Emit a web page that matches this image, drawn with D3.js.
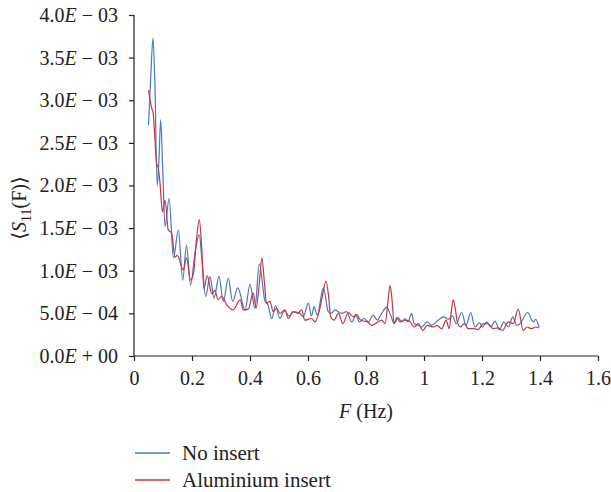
<!DOCTYPE html>
<html>
<head>
<meta charset="utf-8">
<script src="https://cdn.jsdelivr.net/npm/d3@7"></script>
<style>
  body { margin: 0; background: #fff; }
</style>
</head>
<body>
<div id="chart"></div>
<script>
// frequencies (Hz) and mean S11 values (x 1e-3)
const noInsertF = [0.050, 0.058, 0.0655, 0.072, 0.080, 0.086, 0.092, 0.099, 0.107, 0.121, 0.136, 0.153, 0.168, 0.181, 0.195, 0.210, 0.225, 0.235, 0.247, 0.262, 0.276, 0.293, 0.308, 0.325, 0.340, 0.358, 0.383, 0.400, 0.417, 0.432, 0.452, 0.462, 0.475, 0.488, 0.503, 0.518, 0.535, 0.549, 0.572, 0.584, 0.601, 0.612, 0.621, 0.632, 0.653, 0.670, 0.680, 0.693, 0.716, 0.733, 0.751, 0.766, 0.777, 0.793, 0.808, 0.825, 0.839, 0.854, 0.871, 0.885, 0.897, 0.911, 0.923, 0.935, 0.945, 0.957, 0.966, 0.980, 0.992, 1.011, 1.026, 1.049, 1.068, 1.084, 1.098, 1.111, 1.130, 1.145, 1.161, 1.176, 1.191, 1.202, 1.216, 1.230, 1.245, 1.260, 1.275, 1.291, 1.306, 1.320, 1.331, 1.357, 1.377, 1.385, 1.397];
const noInsertV = [2.71, 3.30, 3.73, 3.20, 2.00, 2.30, 2.77, 2.20, 1.52, 1.85, 1.15, 1.48, 0.89, 1.30, 0.83, 1.20, 1.42, 1.10, 0.70, 0.93, 0.68, 0.93, 0.64, 0.91, 0.64, 0.80, 0.54, 0.84, 0.56, 1.08, 0.64, 0.60, 0.44, 0.59, 0.44, 0.53, 0.47, 0.52, 0.50, 0.46, 0.62, 0.47, 0.58, 0.48, 0.80, 0.52, 0.50, 0.54, 0.50, 0.52, 0.40, 0.48, 0.40, 0.44, 0.40, 0.48, 0.42, 0.50, 0.57, 0.48, 0.38, 0.45, 0.40, 0.44, 0.40, 0.50, 0.38, 0.36, 0.34, 0.40, 0.36, 0.42, 0.46, 0.43, 0.47, 0.38, 0.51, 0.36, 0.51, 0.34, 0.39, 0.34, 0.40, 0.34, 0.41, 0.31, 0.40, 0.34, 0.46, 0.36, 0.38, 0.51, 0.40, 0.43, 0.34];

const aluF = [0.050, 0.0609, 0.066, 0.078, 0.084, 0.0897, 0.098, 0.107, 0.118, 0.130, 0.141, 0.149, 0.170, 0.181, 0.195, 0.205, 0.215, 0.225, 0.233, 0.241, 0.253, 0.268, 0.279, 0.290, 0.302, 0.320, 0.342, 0.366, 0.377, 0.394, 0.411, 0.421, 0.432, 0.441, 0.450, 0.457, 0.469, 0.480, 0.492, 0.503, 0.521, 0.532, 0.549, 0.566, 0.578, 0.589, 0.612, 0.624, 0.641, 0.652, 0.662, 0.671, 0.678, 0.690, 0.705, 0.720, 0.739, 0.756, 0.768, 0.779, 0.791, 0.805, 0.820, 0.837, 0.854, 0.866, 0.876, 0.883, 0.890, 0.897, 0.906, 0.917, 0.934, 0.950, 0.966, 0.980, 0.996, 1.011, 1.032, 1.045, 1.061, 1.076, 1.087, 1.095, 1.101, 1.108, 1.115, 1.126, 1.138, 1.153, 1.170, 1.187, 1.204, 1.220, 1.239, 1.255, 1.270, 1.291, 1.308, 1.325, 1.342, 1.356, 1.370, 1.385, 1.397];
const aluV = [3.12, 2.91, 2.85, 2.26, 2.20, 2.03, 1.69, 1.83, 1.48, 1.44, 1.16, 1.18, 1.01, 1.15, 0.89, 0.97, 1.35, 1.60, 1.30, 0.79, 0.94, 0.73, 0.77, 0.66, 0.70, 0.60, 0.54, 0.66, 0.54, 0.55, 0.74, 0.56, 0.85, 1.15, 0.85, 0.62, 0.64, 0.52, 0.56, 0.50, 0.54, 0.44, 0.52, 0.50, 0.54, 0.42, 0.44, 0.40, 0.56, 0.75, 0.88, 0.70, 0.46, 0.42, 0.50, 0.38, 0.51, 0.46, 0.49, 0.43, 0.41, 0.40, 0.36, 0.39, 0.42, 0.38, 0.65, 0.83, 0.65, 0.38, 0.45, 0.40, 0.42, 0.41, 0.34, 0.38, 0.30, 0.36, 0.34, 0.36, 0.32, 0.42, 0.32, 0.55, 0.66, 0.55, 0.40, 0.34, 0.38, 0.32, 0.32, 0.31, 0.38, 0.38, 0.32, 0.33, 0.30, 0.40, 0.38, 0.55, 0.30, 0.34, 0.32, 0.34, 0.33];

const xTicks = [0, 0.2, 0.4, 0.6, 0.8, 1, 1.2, 1.4, 1.6];
const yTicks = [0, 0.5, 1.0, 1.5, 2.0, 2.5, 3.0, 3.5, 4.0]; // x 1e-3
const seriesNames = ['No insert', 'Aluminium insert'];
const seriesColors = ['#4a78c0', '#c4393c'];

const FONT = "'Liberation Serif', 'Times New Roman', 'DejaVu Serif', serif";

const width = 611, height = 492;
const margin = {top: 15, right: 13, bottom: 136, left: 134};
const w = width - margin.left - margin.right;
const h = height - margin.top - margin.bottom;

const svg = d3.select('#chart')
  .append('svg')
  .attr('width', width)
  .attr('height', height)
  .attr('font-family', FONT);

let g = svg.append('g')
  .attr('transform', `translate(${margin.left},${margin.top})`);

let xScale = d3.scaleLinear().domain([0, 1.6]).range([0, w]);
let yScale = d3.scaleLinear().domain([0, 4.0]).range([h, 0]);

// scientific label like 4.0E − 03
function sciLabel(sel, v) {
  let val = v * 1e-3;
  let exp = val === 0 ? 0 : Math.floor(Math.log10(val) + 1e-9);
  let mant = val === 0 ? 0 : val / Math.pow(10, exp);
  let sign = exp < 0 ? '\u2212' : '+';
  let e = String(Math.abs(exp)).padStart(2, '0');
  sel.text(null);
  sel.append('tspan').text(mant.toFixed(1));
  sel.append('tspan').attr('font-style', 'italic').text('E');
  sel.append('tspan').text(` ${sign} ${e}`);
}

const yAxis = g.append('g')
  .call(d3.axisLeft(yScale).tickValues(yTicks).tickSize(5).tickPadding(11));
yAxis.selectAll('text').each(function(d) { sciLabel(d3.select(this), d); });

const xAxis = g.append('g')
  .attr('transform', `translate(0,${h})`)
  .call(d3.axisBottom(xScale).tickValues(xTicks).tickSize(5).tickPadding(10)
    .tickFormat(d3.format('~g')));

g.selectAll('g').attr('font-family', FONT);
g.selectAll('.domain').attr('stroke', '#222').attr('stroke-width', 1.2);
g.selectAll('.tick line').attr('stroke', '#222').attr('stroke-width', 1.2);
g.selectAll('.tick text').attr('font-size', 20).attr('fill', '#222')
  .style('font-family', FONT);
// remove the outer tick stubs of the domain path
yAxis.select('.domain').attr('d', `M0,${h}V0`);
xAxis.select('.domain').attr('d', `M0,0H${w}`);

// lines
const line = d3.line()
  .x(d => xScale(d[0]))
  .y(d => yScale(d[1]))
  .curve(d3.curveMonotoneX);

const series = [
  d3.zip(noInsertF, noInsertV),
  d3.zip(aluF, aluV)
];

g.selectAll('path.series')
  .data(series)
  .enter().append('path')
    .attr('class', 'series')
    .attr('fill', 'none')
    .attr('stroke', (d, i) => seriesColors[i])
    .attr('stroke-width', 1.2)
    .attr('d', line);

// axis titles
const xt = svg.append('text')
  .attr('x', margin.left + w / 2)
  .attr('y', 418)
  .attr('text-anchor', 'middle')
  .attr('font-size', 20)
  .attr('fill', '#222')
  .style('font-family', FONT);
xt.append('tspan').attr('font-style', 'italic').text('F');
xt.append('tspan').text(' (Hz)');

const yt = svg.append('text')
  .attr('transform', `translate(26,208) rotate(-90)`)
  .attr('text-anchor', 'middle')
  .attr('font-size', 20)
  .attr('fill', '#222')
  .style('font-family', FONT);
yt.append('tspan').text('\u27E8');
yt.append('tspan').attr('font-style', 'italic').text('S');
yt.append('tspan').attr('font-size', 14).attr('dy', 5).text('11');
yt.append('tspan').attr('dy', -5).text('(F)\u27E9');

// legend
const legend = svg.append('g');
seriesNames.forEach((name, i) => {
  let ly = 453 + i * 27;
  legend.append('line')
    .attr('x1', 135).attr('x2', 170)
    .attr('y1', ly).attr('y2', ly)
    .attr('stroke', seriesColors[i])
    .attr('stroke-width', 1.3);
  legend.append('text')
    .attr('x', 182).attr('y', ly + 6.5)
    .attr('font-size', 21)
    .attr('fill', '#222')
    .style('font-family', FONT)
    .text(name);
});
</script>
</body>
</html>
